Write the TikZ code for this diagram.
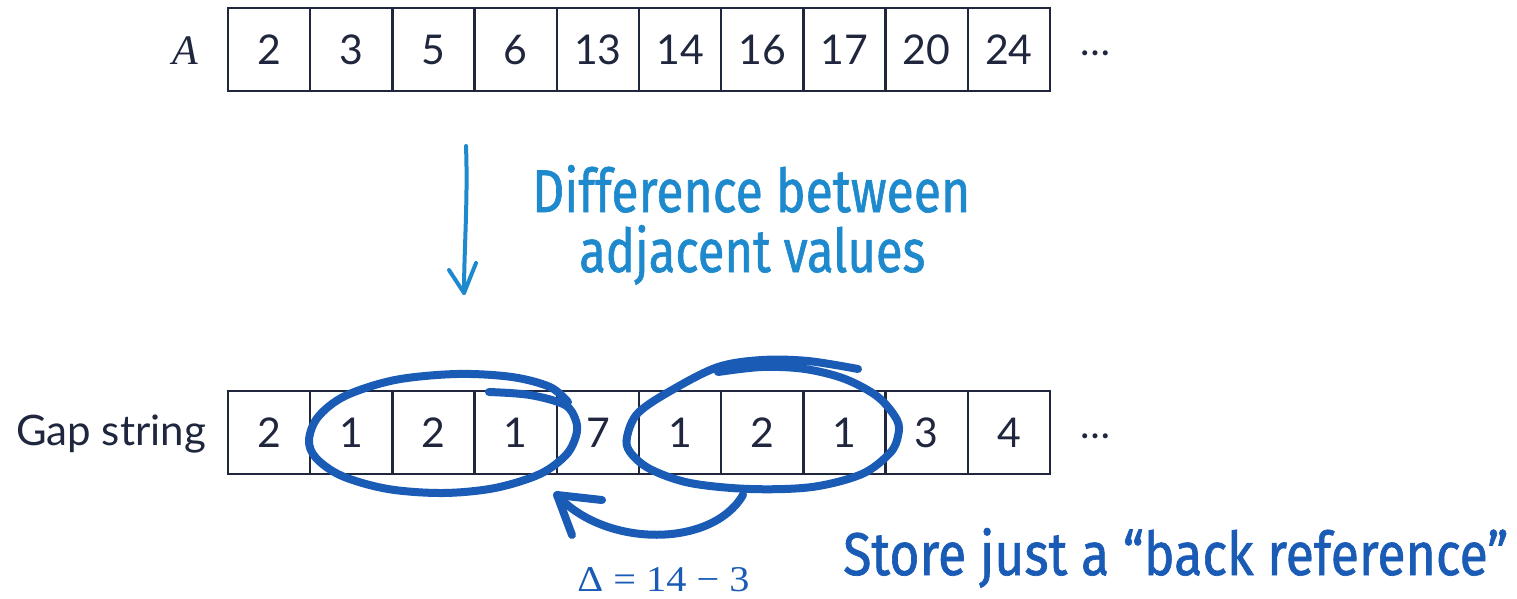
\documentclass[tikz,border=0pt]{standalone}
\usepackage{fontspec}
\usepackage{graphicx}
\setmainfont{Lato}
\newfontfamily\handfont{Fira Sans}[FakeBold=1.2]
\newfontfamily\formula{Liberation Serif}
\definecolor{ink}{RGB}{31,38,61}
\definecolor{skyblue}{RGB}{30,138,205}
\definecolor{penblue}{RGB}{26,91,181}
\begin{document}
\begin{tikzpicture}[x=1pt,y=-1pt,
  cell/.style={draw=ink, line width=2.4pt, minimum width=82.2pt, minimum height=83pt,
    inner sep=0pt, text=ink, font=\fontsize{41}{41}\selectfont},
  rowlabel/.style={inner sep=0pt, text=ink},
  pen/.style={draw=penblue, line width=8pt, line cap=round, line join=round},
  sky/.style={draw=skyblue, line width=4pt, line cap=round, line join=round},
  note/.style={inner sep=0pt, anchor=base west}]
\useasboundingbox (0,0) rectangle (1517,599);

% array A
\foreach \v [count=\i] in {2,3,5,6,13,14,16,17,20,24}
  \node[cell] (a\i) at ({228+82.2*(\i-0.5)},49.5) {\v};
\node[rowlabel, anchor=base, font=\formula\itshape\fontsize{42}{42}\selectfont] (alabel) at (185.5,65) {A};
\node[rowlabel, anchor=base, font=\fontsize{40}{40}\selectfont] (adots) at (1095.5,56) {\dots};

% gap string
\foreach \v [count=\i] in {2,1,2,1,7,1,2,1,3,4}
  \node[cell] (g\i) at ({228+82.2*(\i-0.5)},432.5) {\v};
\node[rowlabel, anchor=base east, font=\fontsize{42}{42}\selectfont] (glabel) at (206,445) {Gap string};
\node[rowlabel, anchor=base, font=\fontsize{40}{40}\selectfont] (gdots) at (1095.5,438) {\dots};

% downward arrow with its caption
\coordinate (downfrom) at (466,146);
\coordinate (downto) at (464,293);
\draw[sky] (downfrom) .. controls (468,200) and (464,250) .. (downto);
\draw[sky] (449,270) -- (downto) -- (476,263);
\node[note, text=skyblue] (cap1) at (532,212) {\resizebox{438pt}{47pt}{\handfont Difference between}};
\node[note, text=skyblue] (cap2) at (579,272) {\resizebox{346pt}{47pt}{\handfont adjacent values}};

% first occurrence of the repeated run
\draw[pen] plot[smooth, tension=0.55] coordinates {
  (489,392) (530,395) (565,405) (576,421) (576,436) (566,455) (540,474) (495,488)
  (443,493) (388,489) (342,476) (316,458) (309,440) (318,417) (345,396) (395,380)
  (457,374) (512,377) (550,387) (568,402)};

% second occurrence of the run
\draw[pen] plot[smooth, tension=0.55] coordinates {
  (718,372) (762,367) (805,369) (845,379) (878,397) (897,420) (898,436) (890,453)
  (862,474) (812,487) (750,489) (690,483) (650,469) (630,452) (627,437) (638,413)
  (672,390) (718,367) (762,360) (808,361) (858,369)};

% back reference arrow
\coordinate (refsrc) at (743,495);
\coordinate (reftip) at (557,495);
\draw[pen] (refsrc) .. controls (712,548) and (605,548) .. (reftip);
\draw[pen] (602,500) -- (reftip) -- (572,535);
\node[anchor=base, inner sep=0pt, text=penblue] (delta) at (663.5,591) {\resizebox{172pt}{24pt}{\formula Δ = 14 − 3}};
\node[note, text=penblue] (cap3) at (843,575) {\resizebox{665pt}{47pt}{\handfont Store just a “back reference”}};
\end{tikzpicture}
\end{document}
